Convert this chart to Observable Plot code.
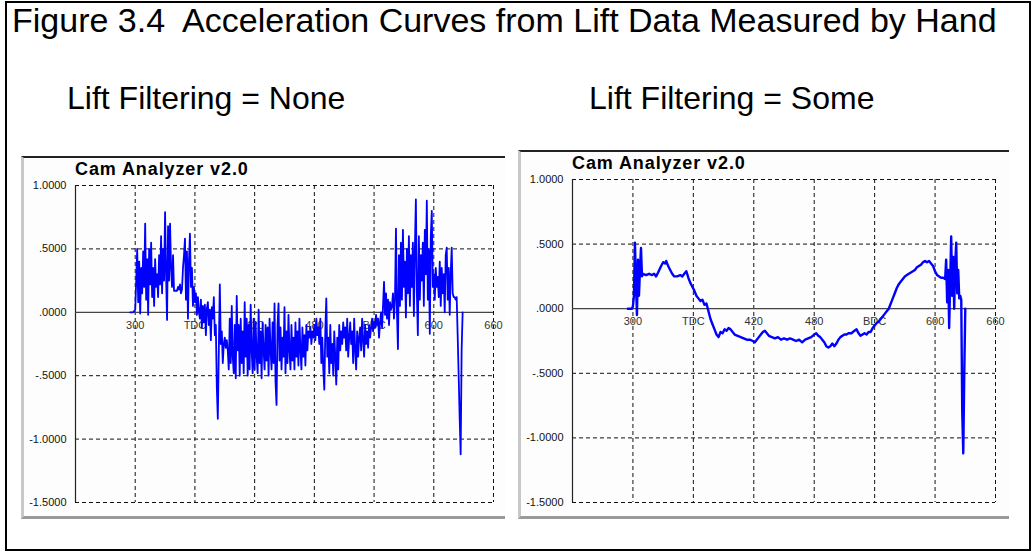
<!DOCTYPE html>
<html><head><meta charset="utf-8">
<script src="https://cdn.jsdelivr.net/npm/d3@7"></script>
<script src="https://cdn.jsdelivr.net/npm/@observablehq/plot@0.6"></script>
<style>
html,body{margin:0;padding:0;background:#fff;}
#page{position:relative;width:1033px;height:552px;overflow:hidden;font-family:"Liberation Sans",Arial,sans-serif;}
#frame{position:absolute;left:5px;top:1px;width:1022px;height:546px;border:2px solid #000;}
.t{position:absolute;white-space:nowrap;color:#000;line-height:normal;}
.panel{position:absolute;background:#fdfdfd;border-left:3px solid #c8c8c8;border-top:2px solid #222;border-bottom:3px solid #9a9a9a;}
.ptitle{position:absolute;font-weight:bold;font-size:18px;letter-spacing:0.9px;white-space:nowrap;line-height:normal;}
.plot{position:absolute;}
</style></head>
<body><div id="page">
<div id="frame"></div>
<div class="t" style="left:12px;top:1px;font-size:34px;">Figure 3.4&nbsp; Acceleration Curves from Lift Data Measured by Hand</div>
<div class="t" style="left:67px;top:80px;font-size:32px;">Lift Filtering = None</div>
<div class="t" style="left:589px;top:80px;font-size:32px;">Lift Filtering = Some</div>
<div class="panel" style="left:21px;top:156px;width:481px;height:358px;"></div>
<div class="panel" style="left:518px;top:150px;width:488px;height:364px;"></div>
<div class="ptitle" style="left:75px;top:159px;">Cam Analyzer v2.0</div>
<div class="ptitle" style="left:572px;top:153px;">Cam Analyzer v2.0</div>
<div id="p1" class="plot" style="left:20px;top:175px;"></div>
<div id="p2" class="plot" style="left:517px;top:170px;"></div>
</div>
<script>
// ---- data ----
const xTicks = [300, 360, 420, 480, 540, 600, 660];
const xTickLabels = ["300", "TDC", "420", "480", "BDC", "600", "660"];
const yTicks = [1, 0.5, 0, -0.5, -1, -1.5];
const yTickLabels = ["1.0000", ".5000", ".0000", "-.5000", "-1.0000", "-1.5000"];

// Lift Filtering = None : one value per degree starting at 295
const noneStart = 295;
const noneAcc = [
 0, 0, 0, 0, 0.01, 0.02,
 0.25, 0.50, 0.08, 0.40, -0.01, 0.35, 0.15, 0.48, 0.20, 0.70,
 0.10, 0.42, -0.02, 0.50, 0.22, 0.55, 0.12, 0.35, 0.05, 0.42,
 0.20, 0.30, 0.12, 0.45, 0.22, 0.60, 0.15, 0.50, 0.25, 0.79,
 0.30, -0.06, 0.68, 0.25, 0.70, 0.35, 0.20, 0.45, 0.17, 0.17,
 0.17, 0.17, 0.20, 0.18, 0.22, 0.15, 0.18, 0.35, 0.45, 0.58,
 0.10, 0.48, -0.05, 0.40, 0.62, 0.20, 0.35, 0.05, 0.20, 0.08,
 0.15, -0.02, 0.12, 0.00, -0.05, 0.10, -0.12, 0.05, -0.08, 0.06,
 -0.18, 0.03, 0.08, -0.10, 0.02, -0.22, 0.04, -0.05, 0.12, -0.18,
 -0.10, -0.59, -0.84, -0.30, 0.22, -0.25, -0.15, -0.40, -0.25, -0.20,
 -0.28, -0.22, -0.30, -0.45, -0.05, -0.40, 0.05, -0.35, -0.48, -0.10,
 -0.52, 0.13, -0.30, -0.10, -0.50, -0.05, -0.40, -0.15, -0.48, 0.08,
 -0.35, -0.05, -0.50, -0.10, -0.45, 0.06, -0.30, -0.48, -0.05, -0.45,
 -0.08, -0.35, -0.48, 0.02, -0.40, -0.15, -0.52, -0.08, -0.30, -0.45,
 -0.10, -0.38, -0.12, -0.50, -0.05, -0.30, -0.45, -0.08, -0.40, 0.07,
 -0.55, -0.73, -0.10, 0.07, -0.38, -0.12, -0.45, -0.20, -0.35, 0.04,
 -0.48, -0.15, -0.40, -0.02, -0.30, -0.45, -0.10, -0.38, -0.20, -0.45,
 -0.08, -0.35, -0.15, -0.42, -0.05, -0.30, -0.45, -0.12, -0.35, -0.18,
 -0.42, -0.10, -0.30, -0.15, -0.20, -0.12, -0.25, -0.15, -0.20, -0.10,
 -0.22, -0.05, -0.18, -0.12, -0.25, -0.05, -0.40, -0.20, -0.45, -0.61,
 -0.15, 0.11, -0.35, -0.20, -0.48, -0.10, -0.40, -0.25, -0.50, -0.15,
 -0.35, -0.57, -0.20, -0.45, -0.10, -0.30, -0.15, -0.25, -0.08, -0.20,
 -0.12, -0.30, -0.05, -0.35, -0.20, -0.08, -0.25, -0.15, -0.40, -0.05,
 -0.30, -0.45, -0.15, -0.35, -0.20, -0.12, -0.30, -0.05, -0.22, -0.35,
 -0.10, -0.25, -0.15, -0.28, -0.10, -0.20, -0.12, -0.05, -0.15, -0.08,
 -0.12, -0.02, -0.10, -0.05, -0.20, -0.08, 0.00, -0.12, 0.05, 0.24,
 -0.02, 0.15, -0.05, 0.10, -0.10, 0.08, 0.02, 0.05, 0.15, -0.05,
 0.10, 0.66, 0.00, -0.29, 0.45, 0.05, 0.55, 0.10, 0.65, 0.20,
 0.40, -0.04, 0.50, 0.15, 0.60, 0.05, 0.45, 0.20, 0.55, -0.03,
 0.50, 0.89, 0.15, -0.18, 0.60, 0.10, 0.45, 0.25, 0.55, 0.05,
 0.65, 0.30, 0.88, 0.10, 0.50, -0.17, 0.60, 0.80, 0.20, 0.30,
 0.10, 0.35, 0.20, 0.28, 0.12, 0.40, 0.05, 0.35, 0.15, 0.30,
 0.00, 0.45, 0.51, 0.10, 0.35, -0.02, 0.30, 0.51, 0.15, 0.12,
 0.12, 0.10, 0.12, -0.18, -0.50, -0.83, -1.12, -0.29, 0.00
];

// Lift Filtering = Some
const someDeg = [295,299,300,301,302,303,304,305,306,307,308,309,310,313,316,319,321,323,325,328,330,332,333,335,337,339,341,344,347,349,351,353,355,357,359,361,363,365,367,369,371,373,375,377,379,381,383,385,387,389,391,393,395,397,399,401,404,407,410,413,416,419,421,423,425,427,429,431,433,435,438,441,444,447,450,453,456,459,462,465,468,471,474,477,480,482,484,486,488,490,492,494,496,498,500,502,504,506,508,510,512,514,517,520,522,524,526,528,530,532,534,536,538,540,542,544,546,548,550,552,554,556,558,560,562,564,566,568,570,572,574,576,578,580,582,584,586,588,590,592,594,596,598,600,602,604,606,608,610,611,612,613,614,615,616,617,618,619,620,621,622,623,624,625,626,627,628,629,630];
const someAcc = [0,0,0.02,0.10,0.51,0.20,-0.05,0.38,0.10,0.30,0.47,0.25,0.27,0.26,0.27,0.26,0.27,0.25,0.28,0.33,0.36,0.35,0.37,0.33,0.30,0.27,0.25,0.25,0.26,0.25,0.27,0.29,0.24,0.20,0.17,0.14,0.10,0.08,0.06,0.07,0.03,0.04,-0.02,-0.08,-0.12,-0.16,-0.20,-0.22,-0.18,-0.19,-0.16,-0.17,-0.15,-0.16,-0.18,-0.20,-0.21,-0.22,-0.23,-0.24,-0.24,-0.25,-0.26,-0.24,-0.22,-0.20,-0.18,-0.17,-0.19,-0.21,-0.22,-0.23,-0.22,-0.24,-0.23,-0.24,-0.23,-0.24,-0.25,-0.24,-0.26,-0.24,-0.23,-0.22,-0.20,-0.19,-0.21,-0.22,-0.24,-0.26,-0.29,-0.30,-0.29,-0.27,-0.29,-0.27,-0.24,-0.22,-0.21,-0.20,-0.20,-0.19,-0.19,-0.17,-0.16,-0.19,-0.21,-0.20,-0.19,-0.20,-0.18,-0.18,-0.15,-0.13,-0.11,-0.10,-0.08,-0.06,-0.04,-0.02,0.00,0.04,0.08,0.12,0.16,0.19,0.21,0.23,0.25,0.26,0.27,0.28,0.29,0.30,0.32,0.33,0.34,0.36,0.37,0.36,0.37,0.35,0.33,0.29,0.26,0.25,0.24,0.24,0.23,0.38,0.05,0.30,-0.15,0.20,0.56,0.10,0.40,0.00,0.35,0.51,0.12,0.30,0.08,0.10,0.07,-0.81,-1.12,-0.50,0.00];

// ---- chart ----
const noneData = noneAcc.map((v, i) => ({deg: noneStart + i, acc: v}));
const someData = someDeg.map((d, i) => ({deg: d, acc: someAcc[i]}));

function chart(data, opts) {
  const labelMap = new Map(yTicks.map((t, i) => [t, yTickLabels[i]]));
  return Plot.plot({
    width: opts.width, height: opts.height,
    marginLeft: opts.ml, marginRight: opts.mr, marginTop: opts.mt, marginBottom: opts.mb,
    style: {fontFamily: "'Liberation Sans', Arial, sans-serif", background: "transparent", overflow: "visible"},
    x: {domain: [240, 660], axis: null},
    y: {domain: [-1.5, 1], axis: null},
    marks: [
      Plot.ruleY(yTicks.filter(t => t !== 0), {stroke: "#111", strokeDasharray: "4,3", strokeWidth: 1}),
      Plot.ruleX(xTicks, {stroke: "#111", strokeDasharray: "4,3", strokeWidth: 1}),
      Plot.ruleX([240], {stroke: "#222", strokeWidth: 1.2}),
      Plot.ruleY([0], {stroke: "#444", strokeWidth: 1.2}),
      Plot.text(xTicks, {x: d => d, y: 0, text: (d, i) => xTickLabels[i], dy: 13, fontSize: 11, fill: "#333"}),
      Plot.axisY({ticks: yTicks, tickFormat: d => labelMap.get(d), tickSize: 0, tickPadding: 9, fontSize: 11, label: null, fill: "#111"}),
      Plot.line(data, {x: "deg", y: "acc", stroke: "#0000ff", strokeWidth: opts.sw, curve: "linear"})
    ]
  });
}

document.getElementById("p1").append(chart(noneData, {width: 490, height: 340, ml: 55, mr: 17, mt: 10, mb: 13, sw: 1.8}));
document.getElementById("p2").append(chart(someData, {width: 495, height: 345, ml: 55, mr: 17, mt: 9, mb: 13, sw: 2.4}));
</script>
</body></html>
